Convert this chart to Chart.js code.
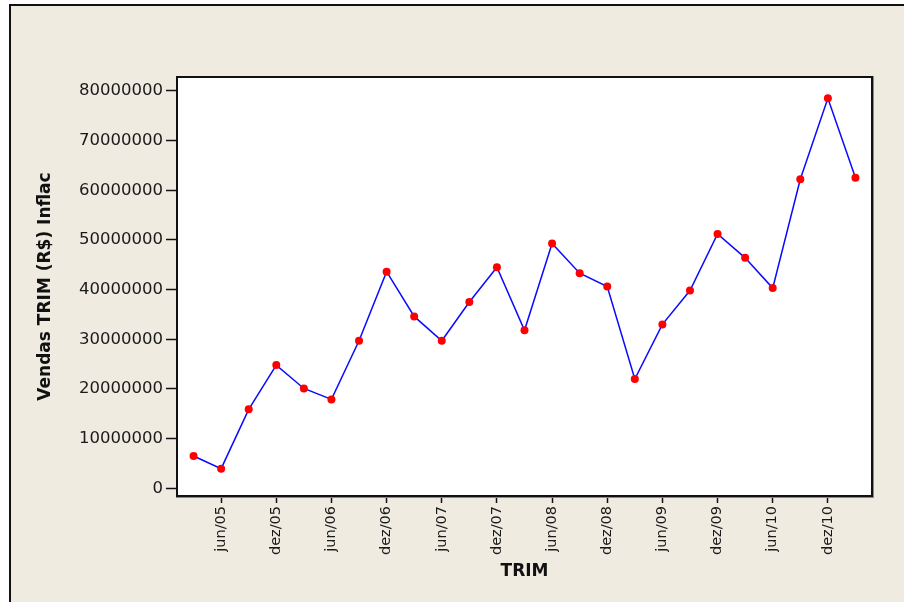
<!DOCTYPE html>
<html>
<head>
<meta charset="utf-8">
<script src="https://cdn.jsdelivr.net/npm/chart.js@4.4.1/dist/chart.umd.min.js"></script>
<style>
    html, body { margin: 0; padding: 0; background: #ffffff; }
    #wrap { width: 904px; height: 602px; position: relative; }
</style>
</head>
<body>
<div id="wrap"><canvas id="salesChart" width="904" height="602"></canvas></div>
<script>
// quarters, mar/05 .. mar/11
const quarters = [
    "mar/05", "jun/05", "set/05", "dez/05",
    "mar/06", "jun/06", "set/06", "dez/06",
    "mar/07", "jun/07", "set/07", "dez/07",
    "mar/08", "jun/08", "set/08", "dez/08",
    "mar/09", "jun/09", "set/09", "dez/09",
    "mar/10", "jun/10", "set/10", "dez/10",
    "mar/11",
];
const sales = [
    6500000, 3950000, 15900000, 24800000,
    20100000, 17900000, 29700000, 43600000,
    34600000, 29700000, 37500000, 44500000,
    31800000, 49300000, 43300000, 40600000,
    22000000, 33000000, 39800000, 51200000,
    46400000, 40300000, 62200000, 78500000,
    62500000,
];
const xTickLabels = [
    "jun/05", "dez/05", "jun/06", "dez/06", "jun/07", "dez/07",
    "jun/08", "dez/08", "jun/09", "dez/09", "jun/10", "dez/10",
];
const yTicks = [0, 10000000, 20000000, 30000000, 40000000, 50000000, 60000000, 70000000, 80000000];

const chartCanvas = document.getElementById("salesChart");

const frame = {
    id: "frame",
    beforeDraw(chart) {
        const ctx = chart.ctx;
        ctx.save();
        ctx.fillStyle = "#ffffff";
        ctx.fillRect(0, 0, chart.width, chart.height);
        ctx.fillStyle = "#efebe1";
        ctx.fillRect(10, 5, chart.width - 10, chart.height - 5);
        ctx.strokeStyle = "#111111";
        ctx.lineWidth = 2;
        ctx.beginPath();
        ctx.moveTo(10, chart.height);
        ctx.lineTo(10, 5);
        ctx.lineTo(chart.width, 5);
        ctx.stroke();
        const a = chart.chartArea;
        ctx.fillStyle = "#ffffff";
        ctx.fillRect(a.left, a.top, a.right - a.left, a.bottom - a.top);
        ctx.restore();
    },
    afterDatasetsDraw(chart) {
        const ctx = chart.ctx;
        const a = chart.chartArea;
        ctx.save();
        ctx.strokeStyle = "#8a8a8a";
        ctx.lineWidth = 1;
        ctx.strokeRect(a.left - 0.5, a.top - 0.5, a.right - a.left + 2, a.bottom - a.top + 2);
        ctx.strokeStyle = "#111111";
        ctx.lineWidth = 2;
        ctx.strokeRect(a.left, a.top, a.right - a.left, a.bottom - a.top);
        ctx.restore();
    },
};

new Chart(chartCanvas, {
    type: "line",
    data: {
        datasets: [
            {
                label: "Vendas TRIM (R$) Inflac",
                data: sales.map((v, i) => ({ x: i, y: v })),
                borderColor: "#0a0aff",
                borderWidth: 1.5,
                pointBackgroundColor: "#ff0000",
                pointBorderColor: "#ff0000",
                pointRadius: 4,
                pointBorderWidth: 0,
                tension: 0,
            },
        ],
    },
    options: {
        responsive: false,
        animation: false,
        layout: { padding: { top: 77, right: 32, left: 0, bottom: 0 } },
        plugins: {
            legend: { display: false },
            tooltip: { enabled: false },
        },
        scales: {
            x: {
                type: "linear",
                min: -0.6,
                max: 24.6,
                afterBuildTicks: (scale) => {
                    scale.ticks = xTickLabels.map((t) => ({ value: quarters.indexOf(t) }));
                },
                afterFit: (scale) => { scale.height = 106; },
                grid: {
                    drawOnChartArea: false,
                    drawTicks: true,
                    tickLength: 7,
                    tickColor: "#111111",
                    tickWidth: 1.5,
                },
                border: { display: false },
                ticks: {
                    autoSkip: false,
                    minRotation: 90,
                    maxRotation: 90,
                    padding: 3,
                    color: "#1a1a1a",
                    font: { family: "DejaVu Sans", size: 14.5 },
                    callback: (value) => quarters[value],
                },
                title: {
                    display: true,
                    text: "TRIM",
                    color: "#111111",
                    font: { family: "DejaVu Sans", size: 17, weight: "bold" },
                    padding: { top: 0, bottom: 20 },
                },
            },
            y: {
                min: -1550000,
                max: 82800000,
                afterBuildTicks: (scale) => {
                    scale.ticks = yTicks.map((v) => ({ value: v }));
                },
                afterFit: (scale) => { scale.width = 177; },
                grid: {
                    drawOnChartArea: false,
                    drawTicks: true,
                    tickLength: 11,
                    tickColor: "#111111",
                    tickWidth: 1.5,
                },
                border: { display: false },
                ticks: {
                    padding: 3,
                    color: "#1a1a1a",
                    font: { family: "DejaVu Sans", size: 16.5 },
                    callback: (value) => String(value),
                },
                title: {
                    display: true,
                    text: "Vendas TRIM (R$) Inflac",
                    color: "#111111",
                    font: { family: "DejaVu Sans", size: 17, weight: "bold" },
                    padding: { top: 35, bottom: 0 },
                },
            },
        },
    },
    plugins: [frame],
});
</script>
</body>
</html>
